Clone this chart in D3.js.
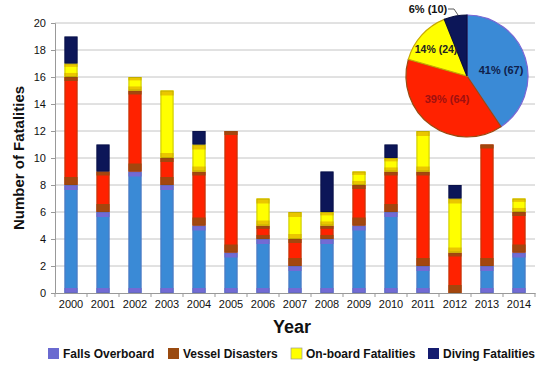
<!DOCTYPE html>
<html><head><meta charset="utf-8">
<script src="https://cdn.jsdelivr.net/npm/d3@7"></script>
<style>body{margin:0;background:#fff}svg{display:block;font-family:"Liberation Sans",Arial,sans-serif}</style>
</head><body><svg id="c" width="550" height="368"></svg>
<script>
const years = ["2000","2001","2002","2003","2004","2005","2006","2007","2008","2009","2010","2011","2012","2013","2014"];
const seriesNames = ["Falls Overboard","Vessel Disasters","On-board Fatalities","Diving Fatalities"];
const fallsOverboard   = [8,6,9,8,5,3,4,2,4,5,6,2,0,2,3];
const vesselDisasters  = [8,3,6,2,4,9,1,2,1,3,3,7,3,9,3];
const onboardFatal     = [1,0,1,5,2,0,2,2,1,1,1,3,4,0,1];
const divingFatal      = [2,2,0,0,1,0,0,0,3,0,1,0,1,0,0];
const yTicks = [0,2,4,6,8,10,12,14,16,18,20];
const pieLabels = ["41% (67)","39% (64)","14% (24)","6% (10)"];

const mainCol = ["#3a8ad6","#ff2200","#ffff00","#0c1658"];
const edgeCol = ["#7a66d4","#9a4a10","#e8c000","#0c1658"];
const strokeCol = ["#5a6ab0","#8a4a10","#a09a00","#0a1040"];
const legendCol = ["#6a6ad0","#9a4a10","#ffff00","#141c70"];

const svg = d3.select("#c");
const m = {l:55, r:535, t:23, b:293};
const x = d3.scaleBand().domain(years).range([m.l, m.r]).paddingInner(0.59).paddingOuter(0.295);
const y = d3.scaleLinear().domain([0,20]).range([m.b, m.t]);

// grid
svg.append("g").selectAll("line").data(yTicks.slice(1)).join("line")
  .attr("x1", m.l).attr("x2", m.r).attr("y1", d=>y(d)).attr("y2", d=>y(d))
  .attr("stroke", "#c4c4c4").attr("stroke-width", 1);

// y axis
const yAx = svg.append("g").attr("transform", `translate(${m.l},0)`)
  .call(d3.axisLeft(y).tickValues(yTicks).tickSize(4).tickPadding(5));
yAx.select(".domain").attr("stroke", "#999");
yAx.selectAll(".tick line").attr("stroke", "#999");
yAx.selectAll("text").attr("font-size", 11).attr("fill", "#111").attr("font-family", "Liberation Sans, Arial, sans-serif");

// x axis
const xAx = svg.append("g").attr("transform", `translate(0,${m.b})`)
  .call(d3.axisBottom(x).tickSize(0).tickPadding(7));
xAx.select(".domain").attr("stroke", "#999");
xAx.selectAll("text").attr("font-size", 11).attr("fill", "#111").attr("font-family", "Liberation Sans, Arial, sans-serif");
const step = x.step();
svg.append("g").selectAll("line").data(d3.range(years.length+1)).join("line")
  .attr("x1", i=>m.l + i*step).attr("x2", i=>m.l + i*step)
  .attr("y1", m.b).attr("y2", m.b+4).attr("stroke", "#999");

// stacked data
const rows = years.map((yr,i)=>({year:yr, s0:fallsOverboard[i], s1:vesselDisasters[i], s2:onboardFatal[i], s3:divingFatal[i]}));
const stack = d3.stack().keys(["s0","s1","s2","s3"])(rows);

const bars = svg.append("g");
stack.forEach((layer, si) => {
  layer.forEach(d => {
    const h = y(d[0]) - y(d[1]);
    if (h <= 0) return;
    const xx = x(d.data.year), w = x.bandwidth(), top = y(d[1]);
    bars.append("rect").attr("x", xx).attr("y", top).attr("width", w).attr("height", h)
      .attr("fill", mainCol[si]);
    if (si < 3) {
      const bb = Math.min(si===1?8:5, h*0.3), tb = Math.min(si===1?4:5, h*0.25);
      bars.append("rect").attr("x", xx).attr("y", top + h - bb).attr("width", w).attr("height", bb)
        .attr("fill", edgeCol[si]).attr("opacity", 0.9);
      bars.append("rect").attr("x", xx).attr("y", top).attr("width", w).attr("height", tb)
        .attr("fill", edgeCol[si]).attr("opacity", 0.9);
    }
    bars.append("rect").attr("x", xx+0.5).attr("y", top+0.5).attr("width", w-1).attr("height", Math.max(0,h-1))
      .attr("fill", "none").attr("stroke", strokeCol[si]).attr("stroke-width", 0.8).attr("opacity", 0.7);
  });
});

// axis titles
svg.append("text").attr("x", 292).attr("y", 333).attr("text-anchor","middle")
  .attr("font-size", 18).attr("font-weight","bold").attr("fill","#111").text("Year");
svg.append("text").attr("transform", `translate(24,${(m.t+m.b)/2}) rotate(-90)`).attr("text-anchor","middle")
  .attr("font-size", 15).attr("font-weight","bold").attr("fill","#111").text("Number of Fatalities");

// legend
const legX = [48, 168, 291, 428];
const leg = svg.append("g");
seriesNames.forEach((n,i)=>{
  leg.append("rect").attr("x", legX[i]).attr("y", 348).attr("width", 11).attr("height", 11)
    .attr("fill", legendCol[i]).attr("stroke", i===2?"#999":"none").attr("stroke-width",0.7);
  leg.append("text").attr("x", legX[i]+15).attr("y", 358).attr("font-size", 12).attr("font-weight","bold")
    .attr("fill","#111").text(n);
});

// pie
const totals = [d3.sum(fallsOverboard), d3.sum(vesselDisasters), d3.sum(onboardFatal), d3.sum(divingFatal)];
const pcx = 467, pcy = 76, pr = 61;
const pie = d3.pie().sort(null).value(d=>d)(totals);
const arc = d3.arc().innerRadius(0).outerRadius(pr);
const pg = svg.append("g").attr("transform", `translate(${pcx},${pcy})`);
const pieStroke = ["#7a66d4","#9a4a10","#c8a800","#0a1040"];
pg.selectAll("path").data(pie).join("path").attr("d", arc)
  .attr("fill", (d,i)=>mainCol[i]).attr("stroke", (d,i)=>pieStroke[i]).attr("stroke-width", 1.2);
const labPos = [[34,-2],[-20,27],[-31,-23],[-39,-63]];
const labCol = ["#10204a","#a01010","#222","#111"];
const labSize = [11,11,10.5,11];
pieLabels.forEach((t,i)=>{
  pg.append("text").attr("x", labPos[i][0]).attr("y", labPos[i][1]).attr("text-anchor","middle")
    .attr("font-size", labSize[i]).attr("font-weight","bold").attr("fill", labCol[i]).text(t);
});
pg.append("polyline").attr("points", "-19,-67 -13,-67 -9,-61").attr("fill","none").attr("stroke","#333").attr("stroke-width",0.8);
</script></body></html>
